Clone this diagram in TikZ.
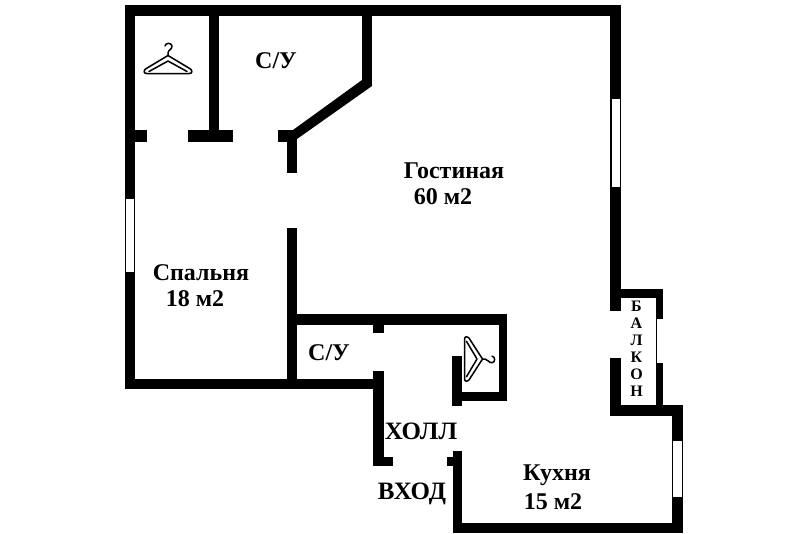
\documentclass[tikz,border=0pt]{standalone}
\usepackage{fontspec}
\setmainfont{Liberation Serif}
\tikzset{
  wall/.style={fill=black,draw=none},
  win/.style={fill=white,draw=none},
  lbl/.style={font=\bfseries\fontsize{24}{24}\selectfont,inner sep=0pt,text=black},
  lblh/.style={font=\bfseries\fontsize{25}{25}\selectfont,inner sep=0pt,text=black},
  lblb/.style={font=\bfseries\fontsize{16}{16}\selectfont,inner sep=0pt,text=black},
  hang/.style={draw=black,line width=1.5pt,fill=none,line join=round,line cap=round}
}
\newcommand{\hangershape}{%
  \draw[hang] (-3,3) .. controls (-3,0) and (3.5,-1) .. (4,3) .. controls (4.3,6.5) and (0,7) .. (0,10) -- (0,12.5);
  \draw[hang] (0,12.5) -- (-22.5,26) .. controls (-24.5,28) and (-24.5,30.5) .. (-21,30.5) -- (21,30.5) .. controls (24.5,30.5) and (24.5,28) .. (22.5,26) -- cycle;
  \draw[hang] (-19,28.5) -- (0,18) -- (19,28.5);
}
\begin{document}
\begin{tikzpicture}[x=1pt,y=-1pt]
\useasboundingbox (0,0) rectangle (800,533);
% walls
\fill[wall] (125,5) rectangle (621,16);
\fill[wall] (125,5) rectangle (135,389);
\fill[wall] (135,130) rectangle (147,142);
\fill[wall] (209,16) rectangle (219,130);
\fill[wall] (188,130) rectangle (233,142);
\fill[wall] (278,130) rectangle (297,142);
\fill[wall] (287,142) rectangle (297,173);
\fill[wall] (362,16) rectangle (372,86);
\fill[wall] (362,80) -- (372,86) -- (297,139) -- (293,130) -- cycle;
\fill[wall] (610,5) rectangle (621,311);
\fill[wall] (610,358) rectangle (621,416);
\fill[wall] (621,289) rectangle (663,298);
\fill[wall] (656,289) rectangle (663,405);
\fill[wall] (610,405) rectangle (683,416);
\fill[wall] (672,405) rectangle (683,533);
\fill[wall] (453,523) rectangle (683,533);
\fill[wall] (453,451) rectangle (462,533);
\fill[wall] (447,457) rectangle (453,466);
\fill[wall] (287,228) rectangle (297,389);
\fill[wall] (297,314) rectangle (507,325);
\fill[wall] (373,325) rectangle (384,333);
\fill[wall] (135,379) rectangle (384,389);
\fill[wall] (373,371) rectangle (384,466);
\fill[wall] (384,457) rectangle (393,466);
\fill[wall] (499,314) rectangle (507,401);
\fill[wall] (452,392) rectangle (507,401);
\fill[wall] (452,356) rectangle (462,406);
% windows
\fill[win] (126,199) rectangle (134,272);
\fill[win] (611.5,99) rectangle (619.5,187);
\fill[win] (657,319) rectangle (662.5,363);
\fill[win] (673,441) rectangle (682,497);
% hangers
\begin{scope}[shift={(168,43)}]\hangershape\end{scope}
\begin{scope}[shift={(495,359)},rotate=-90,xscale=0.93]\hangershape\end{scope}
% labels
\node[lbl] (su1) at (276,61) {С/У};
\node[lbl] (gost) at (454,171) {Гостиная};
\node[lbl] (g60) at (443,197) {60 м2};
\node[lbl] (spal) at (201,273) {Спальня};
\node[lbl] (s18) at (195,299) {18 м2};
\node[lbl] (su2) at (329,353) {С/У};
\node[lblh] (holl) at (421,431) {ХОЛЛ};
\node[lblh] (vhod) at (412,494) {ВХОД};
\node[lbl] (kuh) at (557,475) {Кухня};
\node[lbl] (k15) at (553,502) {15 м2};
\node[lblb] (b1) at (636.5,306) {Б};
\node[lblb] (b2) at (636.5,323) {А};
\node[lblb] (b3) at (636.5,340) {Л};
\node[lblb] (b4) at (636.5,357) {К};
\node[lblb] (b5) at (636.5,374) {О};
\node[lblb] (b6) at (636.5,391) {Н};
\end{tikzpicture}
\end{document}
